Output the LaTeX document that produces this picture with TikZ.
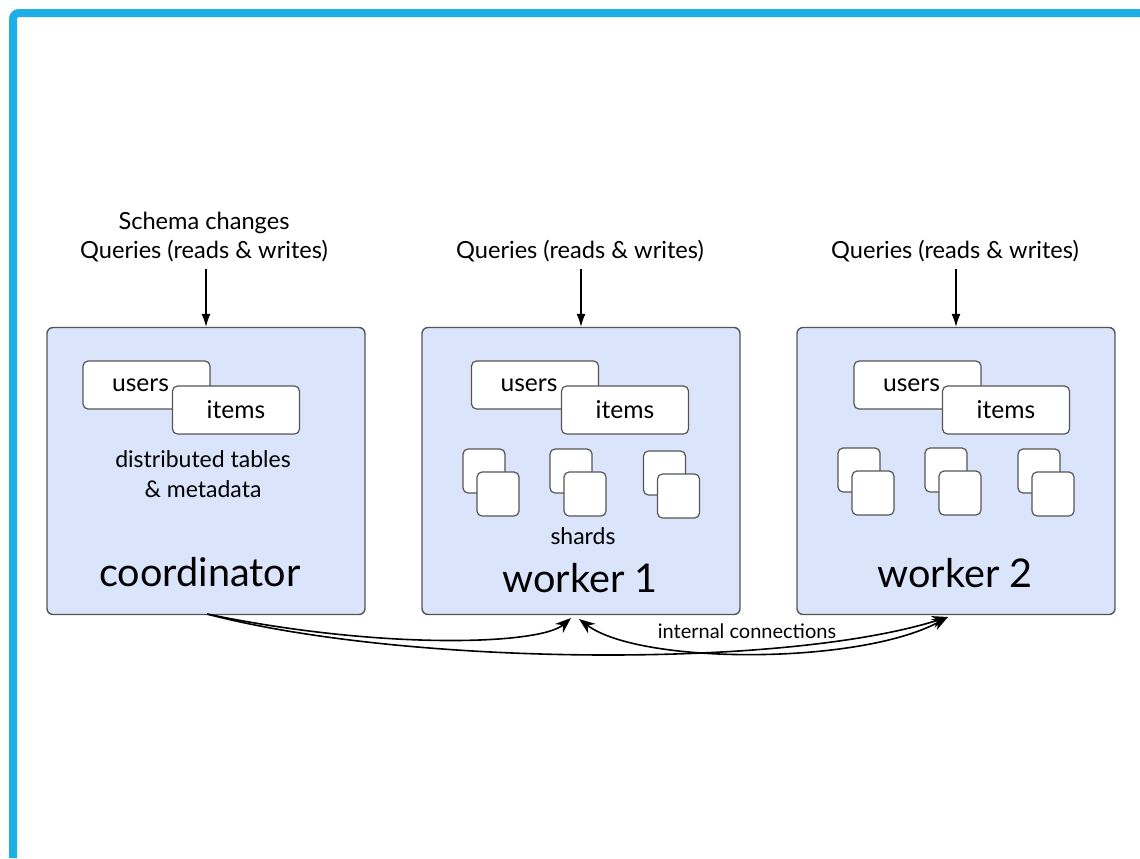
\documentclass[tikz,border=0pt]{standalone}
\usepackage{fontspec}
\setmainfont{Lato}
\usetikzlibrary{positioning, arrows.meta, calc}
\definecolor{framecol}{HTML}{1EAEE6}
\definecolor{boxfill}{HTML}{DAE5FB}
\definecolor{boxline}{HTML}{555555}

\begin{document}
\begin{tikzpicture}[x=0.5pt, y=-0.5pt,
    server/.style={draw=boxline, fill=boxfill, line width=0.7pt, rounded corners=3pt,
        minimum width=159pt, minimum height=143.5pt},
    tbl/.style={draw=boxline, fill=white, line width=0.6pt, rounded corners=2.5pt,
        minimum width=63.5pt, minimum height=24pt, font=\fontsize{12.3}{14}\selectfont},
    shard/.style={draw=boxline, fill=white, line width=0.6pt, rounded corners=2.5pt,
        minimum width=21pt, minimum height=22pt},
    query/.style={font=\fontsize{11.8}{14.5}\selectfont, align=center},
    big/.style={font=\fontsize{19.8}{22}\selectfont},
    qarrow/.style={-{Latex[length=6.5pt, width=4.5pt]}, line width=0.6pt},
    linktip/.tip={Stealth[length=8pt, width=6pt]},
    link/.style={-linktip, line width=0.8pt}]
    \useasboundingbox[fill=white] (0,0) rectangle (1140,858);
    % Frame
    \draw[framecol, line width=4pt, rounded corners=3pt] (13,858) -- (13,13) -- (1140,13);
    % Servers
    \node[server] (coord) at (206,471) {};
    \node[server] (w1) at (581,471) {};
    \node[server] (w2) at (956,471) {};
    % Incoming queries
    \node[query] (q0) at (204,237) {Schema changes\\Queries (reads \& writes)};
    \node[query] (q1) at (580,251) {Queries (reads \& writes)};
    \node[query] (q2) at (955,251) {Queries (reads \& writes)};
    \draw[qarrow] (q0.south -| coord.north) -- (coord.north);
    \draw[qarrow] (q1.south -| w1.north) -- (w1.north);
    \draw[qarrow] (q2.south -| w2.north) -- (w2.north);
    % Tables
    \node[tbl] (users0) at (146.5,385) {users\kern6pt};
    \node[tbl] (items0) at (236,410) {items};
    \node[tbl] (users1) at (535,385) {users\kern6pt};
    \node[tbl] (items1) at (625,410) {items};
    \node[tbl] (users2) at (917.5,385) {users\kern6pt};
    \node[tbl] (items2) at (1006,410) {items};
    % Shards
    \foreach \x/\y [count=\i] in {484/471, 571/471, 664.5/473, 859/470, 946/470, 1039/471} {
        \node[shard] (sa\i) at (\x,\y) {};
        \node[shard] (sb\i) at ($(sa\i)+(14,23)$) {};
    }
    % Labels
    \node[font=\fontsize{11.5}{15}\selectfont, align=center] (meta) at (203,474) {distributed tables\\\& metadata};
    \node[font=\fontsize{11.5}{12}\selectfont] (shards) at (583,536) {shards};
    \node[big] (coordlbl) at (200,572) {coordinator};
    \node[big] (w1lbl) at (580,578) {worker 1};
    \node[big] (w2lbl) at (955,573) {worker 2};
    % Internal connections
    \coordinate (c0) at (207,614);
    \coordinate (in1) at (571,618);
    \coordinate (out1) at (579,619);
    \coordinate (in2) at (948,617);
    \draw[link] (c0) .. controls (380,650) and (540,645) .. (in1);
    \draw[link] (c0) .. controls (400,665) and (780,670) .. (in2);
    \draw[link, linktip-linktip] (out1) .. controls (640,665) and (860,665) .. (in2);
    \node[font=\fontsize{10}{11}\selectfont] (internal) at (747,631) {internal connections};
\end{tikzpicture}
\end{document}
